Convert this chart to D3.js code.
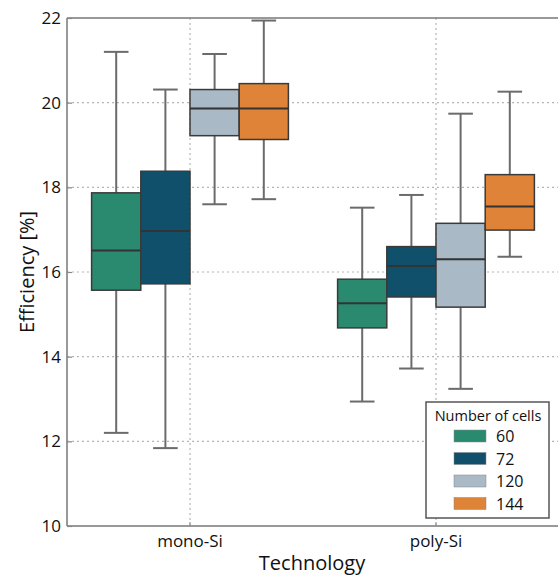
<!DOCTYPE html>
<html>
<head>
<meta charset="utf-8">
<script src="https://cdn.jsdelivr.net/npm/d3@7/dist/d3.min.js"></script>
<style>
  body { margin: 0; background: #fff; }
  svg { display: block; font-family: "Open Sans", "Noto Sans", sans-serif; }
</style>
</head>
<body>
<svg id="chart" width="558" height="577"></svg>
<script>
// Categories and series
const technologies = ["mono-Si", "poly-Si"];
const cellCounts = ["60", "72", "120", "144"];
const seriesColors = ["#2a8a70", "#11506b", "#a9b9c5", "#de8338"];

// Box statistics per series: [mono-Si, poly-Si]
const whiskerLow  = { "60": [12.20, 12.94], "72": [11.84, 13.72], "120": [17.60, 13.24], "144": [17.72, 16.36] };
const quartile1   = { "60": [15.57, 14.68], "72": [15.72, 15.41], "120": [19.22, 15.17], "144": [19.13, 16.99] };
const medians     = { "60": [16.51, 15.26], "72": [16.97, 16.14], "120": [19.86, 16.30], "144": [19.86, 17.55] };
const quartile3   = { "60": [17.87, 15.83], "72": [18.38, 16.60], "120": [20.31, 17.15], "144": [20.45, 18.30] };
const whiskerHigh = { "60": [21.20, 17.52], "72": [20.31, 17.82], "120": [21.15, 19.74], "144": [21.94, 20.26] };

const yTicks = [10, 12, 14, 16, 18, 20, 22];

const svg = d3.select("#chart");
const margin = { left: 67, right: -1, top: 18, bottom: 51 };
const W = 558, H = 577;
const x0 = margin.left, x1 = W - margin.right;
const yTop = margin.top, yBot = H - margin.bottom;

const x = d3.scaleBand().domain(technologies).range([x0, x1]).padding(0);
const xInner = d3.scaleBand().domain(cellCounts).range([0, x.bandwidth() * 0.8]);
const y = d3.scaleLinear().domain([10, 22]).range([yBot, yTop]);

// Grid lines (dotted)
const grid = svg.append("g");
grid.selectAll("line.hy").data(yTicks.slice(1, -1)).join("line")
  .attr("x1", x0).attr("x2", x1)
  .attr("y1", d => y(d)).attr("y2", d => y(d))
  .attr("stroke", "#b5b5b5").attr("stroke-width", 1.2).attr("stroke-dasharray", "2,3");
grid.selectAll("line.vx").data(technologies).join("line")
  .attr("x1", d => x(d) + x.bandwidth() / 2).attr("x2", d => x(d) + x.bandwidth() / 2)
  .attr("y1", yTop).attr("y2", yBot)
  .attr("stroke", "#b5b5b5").attr("stroke-width", 1.2).attr("stroke-dasharray", "2,3");

// Boxes
const rows = [];
technologies.forEach((t, ti) => cellCounts.forEach((c, ci) => rows.push({
  t, c, ci,
  lo: whiskerLow[c][ti], q1: quartile1[c][ti], med: medians[c][ti],
  q3: quartile3[c][ti], hi: whiskerHigh[c][ti]
})));

const boxes = svg.append("g").selectAll("g").data(rows).join("g")
  .attr("transform", d => `translate(${x(d.t) + x.bandwidth() * 0.1 + xInner(d.c)},0)`);
const bw = xInner.bandwidth();
const cx = bw / 2;
const capHalf = bw * 0.25;

boxes.append("line").attr("x1", cx).attr("x2", cx)
  .attr("y1", d => y(d.hi)).attr("y2", d => y(d.q3))
  .attr("stroke", "#6b6b6b").attr("stroke-width", 2);
boxes.append("line").attr("x1", cx).attr("x2", cx)
  .attr("y1", d => y(d.q1)).attr("y2", d => y(d.lo))
  .attr("stroke", "#6b6b6b").attr("stroke-width", 2);
boxes.append("line").attr("x1", cx - capHalf).attr("x2", cx + capHalf)
  .attr("y1", d => y(d.hi)).attr("y2", d => y(d.hi))
  .attr("stroke", "#6b6b6b").attr("stroke-width", 2);
boxes.append("line").attr("x1", cx - capHalf).attr("x2", cx + capHalf)
  .attr("y1", d => y(d.lo)).attr("y2", d => y(d.lo))
  .attr("stroke", "#6b6b6b").attr("stroke-width", 2);
boxes.append("rect").attr("x", 0).attr("width", bw)
  .attr("y", d => y(d.q3)).attr("height", d => y(d.q1) - y(d.q3))
  .attr("fill", d => seriesColors[d.ci])
  .attr("stroke", "#3a3a3a").attr("stroke-width", 1.5);
boxes.append("line").attr("x1", 0).attr("x2", bw)
  .attr("y1", d => y(d.med)).attr("y2", d => y(d.med))
  .attr("stroke", "#333").attr("stroke-width", 2);

// Axes frame
svg.append("line").attr("x1", x0).attr("x2", x0).attr("y1", yTop).attr("y2", yBot)
  .attr("stroke", "#777").attr("stroke-width", 1.5);
svg.append("line").attr("x1", x0).attr("x2", x1).attr("y1", yBot).attr("y2", yBot)
  .attr("stroke", "#777").attr("stroke-width", 1.5);
svg.append("line").attr("x1", x0).attr("x2", x1).attr("y1", yTop).attr("y2", yTop)
  .attr("stroke", "#777").attr("stroke-width", 1.5);

// Y axis (ticks point inward)
const yAxis = svg.append("g").attr("transform", `translate(${x0},0)`)
  .call(d3.axisLeft(y).tickValues(yTicks).tickSize(-5).tickPadding(6).tickFormat(d3.format("d")));
yAxis.select(".domain").remove();
yAxis.selectAll(".tick line").attr("stroke", "#888").attr("stroke-width", 1.2);
yAxis.selectAll(".tick text").attr("font-size", 17).attr("fill", "#111")
  .attr("font-family", "'Open Sans', sans-serif");

// X axis
const xAxis = svg.append("g").attr("transform", `translate(0,${yBot})`)
  .call(d3.axisBottom(x).tickSize(-4).tickPadding(9));
xAxis.select(".domain").remove();
xAxis.selectAll(".tick line").attr("stroke", "#888");
xAxis.selectAll(".tick text").attr("font-size", 17).attr("fill", "#111")
  .attr("font-family", "'Open Sans', sans-serif");

// Axis titles
svg.append("text").attr("x", 312).attr("y", 570)
  .attr("text-anchor", "middle").attr("font-size", 20).attr("fill", "#111")
  .text("Technology");
svg.append("text").attr("transform", `translate(34,${(yTop + yBot) / 2}) rotate(-90)`)
  .attr("text-anchor", "middle").attr("font-size", 20).attr("fill", "#111")
  .text("Efficiency [%]");

// Legend
const lg = svg.append("g").attr("transform", "translate(426,402)");
lg.append("rect").attr("width", 123).attr("height", 116)
  .attr("fill", "#fff").attr("stroke", "#555").attr("stroke-width", 1.5);
lg.append("text").attr("x", 62).attr("y", 19).attr("text-anchor", "middle")
  .attr("font-size", 14.5).attr("font-weight", 500).attr("fill", "#111").text("Number of cells");
const items = lg.selectAll("g.item").data(cellCounts).join("g")
  .attr("transform", (d, i) => `translate(0,${34 + i * 22.5})`);
items.append("rect").attr("x", 28).attr("y", -6).attr("width", 32).attr("height", 12)
  .attr("fill", (d, i) => seriesColors[i]).attr("stroke", "#888").attr("stroke-width", 0.5);
items.append("text").attr("x", 70).attr("y", 6).attr("font-size", 16).attr("fill", "#111")
  .text(d => d);
</script>
</body>
</html>
